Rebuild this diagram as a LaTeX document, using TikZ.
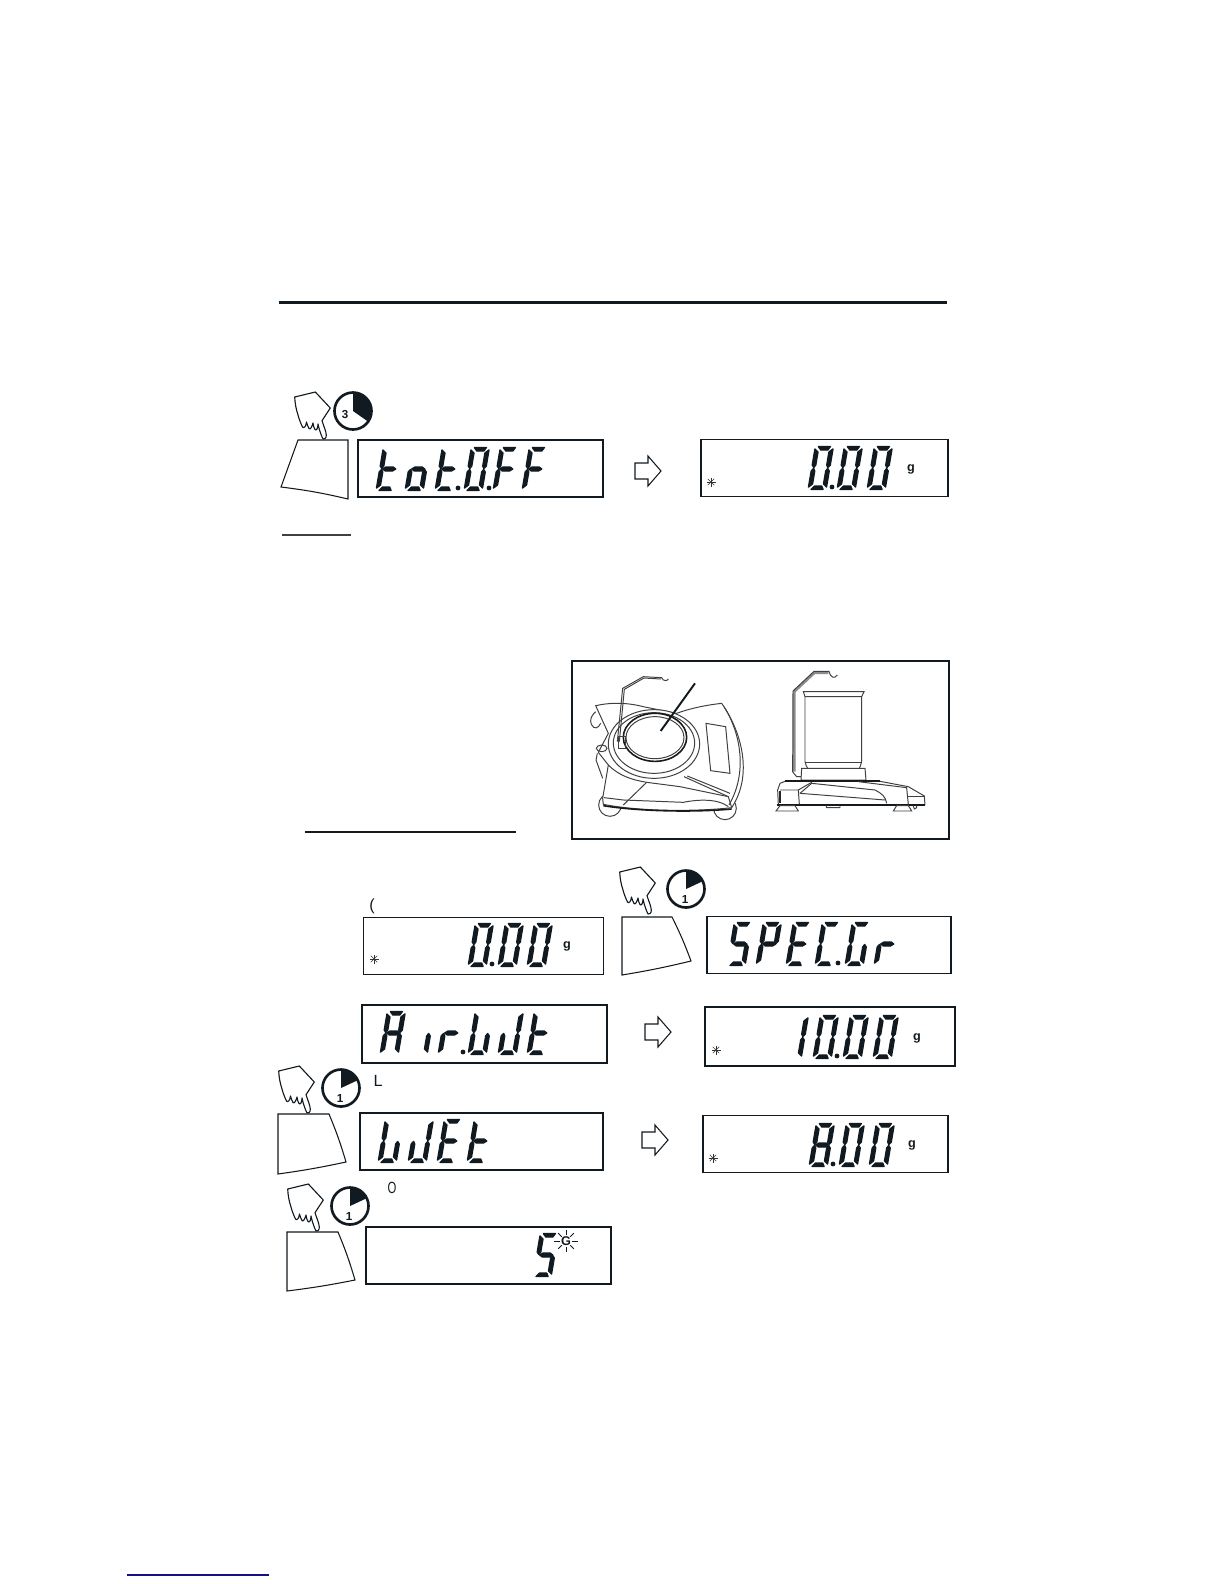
\documentclass[tikz,border=0pt]{standalone}
\usepackage{fontspec}
\setmainfont{Liberation Sans}
\usetikzlibrary{arrows.meta, positioning}
\definecolor{cInk}{HTML}{111A20}
\definecolor{cNavy}{HTML}{10108A}

% seven segment parts, origin on the baseline at the lower left
\newcommand{\sega}{(3,-43.5) -- (15,-43.5) -- (13,-40) -- (6,-40) -- cycle}
\newcommand{\segb}{(18,-41) -- (18,-25) -- (16,-22.5) -- (14.5,-25) -- (14.5,-38) -- cycle}
\newcommand{\segc}{(18,-19) -- (18,-3) -- (14.5,-6) -- (14.5,-19) -- (16,-21.5) -- cycle}
\newcommand{\segd}{(3,-0.5) -- (15,-0.5) -- (13,-4) -- (6,-4) -- cycle}
\newcommand{\sege}{(0,-19) -- (0,-3) -- (3.5,-6) -- (3.5,-19) -- (2,-21.5) -- cycle}
\newcommand{\segf}{(0,-41) -- (0,-25) -- (2,-22.5) -- (3.5,-25) -- (3.5,-38) -- cycle}
\newcommand{\segg}{(3,-22) -- (6,-24) -- (13,-24) -- (16,-22) -- (13,-20) -- (6,-20) -- cycle}
\newcommand{\lcdchar}[3]{%
  \begin{scope}[shift={(#1,#2)}, xslant=0.17]
    \edef\lcdlist{#3}
    \foreach \s in \lcdlist {\filldraw[lcdink] \csname seg\s\endcsname;}
  \end{scope}}
\def\lcdZ{a,b,c,d,e,f}
\def\lcdT{d,e,f,g}
\def\lcdO{c,d,e,g}
\def\lcdF{a,e,f,g}
\def\lcdS{a,f,g,c,d}
\def\lcdP{a,b,e,f,g}
\def\lcdE{a,d,e,f,g}
\def\lcdC{a,d,e,f}
\def\lcdG{a,c,d,e,f}
\def\lcdR{e,g}
\def\lcdA{a,b,c,e,f,g}
\def\lcdI{c}
\def\lcdU{c,d,e,f}
\def\lcdJ{b,c,d,e}
\def\lcdN{b,c}
\def\lcdH{a,b,c,d,e,f,g}

\begin{document}
\begin{tikzpicture}[
  x=0.01cm, y=-0.01cm,
  lcdink/.style={fill=cInk, draw=cInk, line width=0.4pt, line join=round},
  dispbox/.style={rectangle, draw=cInk, line width=0.4pt, minimum width=2.44cm,
                  minimum height=0.57cm, inner sep=0pt},
  rule/.style={line width=0.6pt, color=cInk},
  keybox/.style={line width=0.3pt, color=cInk, fill=white},
  blockarr/.style={line width=0.3pt, color=cInk, fill=white},
  balink/.style={line width=0.28pt, color=black!75},
  balthick/.style={line width=0.45pt, color=black!90},
  unit/.style={font=\fontsize{3.6}{4}\selectfont\bfseries, text=cInk, inner sep=0pt},
  clocknum/.style={font=\fontsize{3.3}{4}\selectfont\bfseries, text=cInk, inner sep=0pt},
  stray/.style={font=\fontsize{4.6}{5}\selectfont, text=cInk, inner sep=0pt},
  pics/handpic/.style={code={
    \draw[line width=0.32pt, color=cInk, fill=white, line join=round]
      (-29.3,-42) -- (-8.7,-47) -- (6.3,-31) -- (-2,-18.3) .. controls (0,-12) and (2,-8) .. (2.3,-4)
      .. controls (2.6,-1) and (0,1) .. (-1,0) .. controls (-3,-4) and (-5,-10) .. (-6,-15)
      .. controls (-6,-10) and (-8,-8) .. (-9,-9.5) .. controls (-10,-11) and (-11,-14) .. (-11,-16)
      .. controls (-12,-12) and (-14,-9) .. (-15,-10.5) .. controls (-16,-12) and (-17,-15) .. (-17.5,-17)
      .. controls (-18,-13) and (-20,-10) .. (-21.5,-12) .. controls (-23,-15) and (-25,-20) .. (-26,-24)
      .. controls (-28,-30) and (-29,-36) .. cycle;
  }},
  pics/clockpic/.style={code={
    \draw[line width=0.75pt, color=cInk, fill=white] (0,0) circle[radius=0.185cm];
    \fill[cInk] (0,0) -- (0,-19) arc[start angle=90, end angle=#1, radius=0.19cm] -- cycle;
  }},
  pics/starpic/.style={code={
    \foreach \a in {0,45,90,135}
      \draw[line width=0.13pt, color=black!80, rotate=\a] (-4.5,0) -- (4.5,0);
  }},
  pics/arrowpic/.style={code={
    \draw[blockarr] (0,0) -- (-13,15) -- (-13,8) -- (-26,8) -- (-26,-8) -- (-13,-8) -- (-13,-15) -- cycle;
  }},
]
\useasboundingbox (0,0) rectangle (1224,1584);

% ---- Rules ----
\draw[rule] (279,302.5) -- (947,302.5);
\draw[line width=0.3pt, color=black!75] (282,535) -- (351,535);
\draw[rule] (305,832) -- (516,832);
\draw[line width=0.45pt, color=cNavy] (127,1575) -- (269,1575);

% ---- Row 1 ----
\pic (hand1) at (324,439) {handpic};
\pic (clock1) at (353,411) {clockpic={-35}};
\node[clocknum] (num1) at (345,415) {3};
\draw[keybox] (298,440) -- (348,440) -- (348,499) to[bend right=3] (281,487) -- cycle;
\node[dispbox, minimum width=2.45cm] (dTot) at (480.5,468.5) {};
\foreach \x/\g in {376/\lcdT, 405/\lcdO, 435/\lcdT, 464/\lcdZ, 493/\lcdF, 522/\lcdF}
  \lcdchar{\x}{491}{\g};
\foreach \x in {458,489} \fill[cInk] (\x,488) circle[radius=0.024cm];
\pic (arrow1) at (661,471) {arrowpic};
\node[dispbox, minimum width=2.47cm] (dZero) at (824.5,468) {};
\pic (star1) at (711,482) {starpic};
\foreach \x/\g in {808/\lcdZ, 837/\lcdZ, 867/\lcdZ}
  \lcdchar{\x}{490}{\g};
\fill[cInk] (832,487) circle[radius=0.024cm];
\node[unit] (unit1) at (911,469) {g};

% ---- Balance box ----
\draw[line width=0.6pt, color=cInk] (572,661) rectangle (949,839);
\begin{scope}[shift={(580,665)}, scale=0.3333]
  % top view
  \draw[balink] (90,420) circle[radius=0.34cm];
  \draw[balink] (435,430) circle[radius=0.34cm];
  \draw[balink, fill=white] (47,122) .. controls (90,112) and (140,112) .. (190,125)
    -- (290,145) .. controls (330,130) and (380,120) .. (425,115)
    .. controls (485,200) and (520,330) .. (455,428)
    .. controls (350,440) and (180,440) .. (70,418)
    -- (68,400) -- (85,300) -- (55,262) -- (85,205) -- cycle;
  \draw[balink] (432,125) .. controls (480,200) and (505,320) .. (447,420);
  \draw[balink] (47,140) .. controls (35,150) and (28,165) .. (34,178) .. controls (42,195) and (55,190) .. (62,175);
  \draw[balink] (65,250) ellipse[x radius=0.16cm, y radius=0.10cm];
  \draw[balink] (52,265) -- (48,285) -- (68,340);
  \draw[balink, fill=white] (222,237) ellipse[x radius=1.37cm, y radius=1.03cm];
  \draw[balink] (222,234) ellipse[x radius=1.22cm, y radius=0.91cm];
  \draw[balthick] (225,217) ellipse[x radius=0.95cm, y radius=0.72cm];
  \draw[balink] (225,218) ellipse[x radius=0.87cm, y radius=0.63cm];
  \draw[balink] (378,175) -- (437,185) -- (450,325) -- (392,317) -- cycle;
  \draw[balink] (85,300) .. controls (120,335) and (160,345) .. (200,352);
  \draw[balink] (200,352) -- (130,420);
  \draw[balink] (72,398) -- (130,405) -- (310,412) .. controls (370,400) and (420,405) .. (445,425);
  \draw[balink] (200,352) -- (300,365) -- (445,395);
  \draw[balink] (312,335) -- (445,395) -- (455,428);
  \draw[balink] (322,333) -- (450,385);
  \draw[balthick] (70,422) .. controls (180,440) and (350,442) .. (455,432);
  \draw[balink] (115,215) -- (135,215) -- (135,250) -- (115,250) -- cycle;
  \draw[balink] (112,230) -- (128,70) -- (190,35) -- (245,38) .. controls (250,50) and (262,48) .. (265,42);
  \draw[balink] (118,230) -- (133,73) -- (192,39) -- (243,42);
  \draw[line width=0.55pt, color=cInk] (345,55) -- (242,198);
  \end{scope}
\begin{scope}[shift={(765,665)}, scale=0.3333]
  % side view
  \draw[balink] (120,95) -- (120,290) .. controls (122,300) and (125,305) .. (128,310);
  \draw[balink] (290,95) -- (290,290) .. controls (288,300) and (285,305) .. (283,310);
  \draw[balink] (120,292) -- (290,292);
  \draw[balink] (115,80) -- (297,80) -- (290,95) -- (120,95) -- cycle;
  \draw[balink] (110,310) -- (300,310) -- (303,345) -- (108,345) -- cycle;
  \draw[balthick] (60,348) -- (345,348);
  \draw[balink] (38,375) -- (45,355) -- (60,349);
  \draw[balink] (345,349) -- (430,365) -- (478,393) -- (480,420);
  \draw[balink] (38,375) -- (40,420);
  \draw[line width=0.7pt, color=cInk] (35,420) -- (480,420);
  \draw[balink] (45,375) -- (100,375) -- (140,352);
  \draw[balink] (100,375) -- (103,418);
  \draw[balink] (105,385) -- (140,355) -- (330,375) .. controls (350,385) and (362,395) .. (365,415);
  \draw[balink] (105,385) -- (360,405);
  \draw[balink] (280,350) -- (425,368) -- (430,418);
  \draw[balink] (430,395) -- (478,395);
  \draw[line width=0.6pt, color=black!85] (44,378) -- (44,415);
  \draw[balink] (33,438) -- (45,422) -- (90,422) -- (100,438) -- cycle;
  \draw[balink] (385,438) -- (395,422) -- (430,422) -- (440,438) -- cycle;
  \draw[balink] (183,422) -- (185,428) -- (225,428) -- (225,422);
  \draw[balink] (445,422) -- (448,432) -- (455,428) -- (455,422);
  \draw[line width=0.7pt, color=black!45] (88,320) -- (88,80) -- (148,24) -- (190,24);
  \draw[balink] (83,322) -- (84,78) -- (147,19) -- (192,19)
    .. controls (195,38) and (210,42) .. (217,30);
  \draw[balink] (84,322) -- (95,335) -- (108,335);
\end{scope}

% ---- Row 2 ----
\node[stray] (paren) at (372,906) {(};
\node[dispbox, minimum width=2.40cm] (dStart) at (483.5,946) {};
\pic (star2) at (374,959) {starpic};
\foreach \x/\g in {468/\lcdZ, 498/\lcdZ, 527/\lcdZ}
  \lcdchar{\x}{967}{\g};
\fill[cInk] (492,964) circle[radius=0.024cm];
\node[unit] (unit2) at (567,946) {g};
\pic (hand2) at (649,914) {handpic};
\pic (clock2) at (686,889) {clockpic={25}};
\node[clocknum] (num2) at (685,899) {1};
\draw[keybox] (622,917) -- (672,917) to[bend left=3] (691,961) to[bend left=2] (622,975) -- cycle;
\node[dispbox] (dSpec) at (829,945) {};
\foreach \x/\g in {727/\lcdS, 756/\lcdP, 786/\lcdE, 815/\lcdC, 845/\lcdG, 874/\lcdR}
  \lcdchar{\x}{966}{\g};
\fill[cInk] (838,963) circle[radius=0.024cm];

% ---- Row 3 ----
\node[dispbox, minimum width=2.45cm, minimum height=0.58cm] (dAir) at (484.5,1034) {};
\foreach \x/\g in {380/\lcdA, 409/\lcdI, 438/\lcdR, 468/\lcdU, 498/\lcdJ, 527/\lcdT}
  \lcdchar{\x}{1055}{\g};
\fill[cInk] (463,1052) circle[radius=0.024cm];
\pic (arrow2) at (671,1032) {arrowpic};
\node[dispbox, minimum width=2.50cm, minimum height=0.59cm] (dTen) at (830,1036.5) {};
\pic (star3) at (716,1050) {starpic};
\foreach \x/\g in {783/\lcdN, 813/\lcdZ, 843/\lcdZ, 873/\lcdZ}
  \lcdchar{\x}{1059}{\g};
\fill[cInk] (837,1056) circle[radius=0.024cm];
\node[unit] (unit3) at (917,1038) {g};

% ---- Row 4 ----
\pic (hand3) at (308,1113) {handpic};
\pic (clock3) at (341,1088) {clockpic={25}};
\node[clocknum] (num3) at (340,1098) {1};
\node[stray] (letterL) at (378,1081) {L};
\draw[keybox] (278,1114) -- (329,1114) to[bend left=3] (346,1162) to[bend left=2] (278,1174) -- cycle;
\node[dispbox, minimum width=2.43cm] (dWet) at (481.5,1141.5) {};
\foreach \x/\g in {378/\lcdU, 408/\lcdJ, 437/\lcdE, 467/\lcdT}
  \lcdchar{\x}{1163}{\g};
\pic (arrow3) at (668,1140) {arrowpic};
\node[dispbox, minimum width=2.45cm] (dEight) at (825.5,1144) {};
\pic (star4) at (713,1158) {starpic};
\foreach \x/\g in {809/\lcdH, 839/\lcdZ, 869/\lcdZ}
  \lcdchar{\x}{1167}{\g};
\fill[cInk] (833,1164) circle[radius=0.024cm];
\node[unit] (unit4) at (912,1145) {g};

% ---- Row 5 ----
\pic (hand4) at (317,1231) {handpic};
\pic (clock4) at (350,1206) {clockpic={25}};
\node[clocknum] (num4) at (349,1216) {1};
\node[stray, xscale=0.7, transform shape] (letterO) at (392,1188) {O};
\draw[keybox] (287,1232) -- (338,1232) to[bend left=3] (355,1280) to[bend left=2] (287,1291) -- cycle;
\node[dispbox, minimum width=2.45cm] (dFive) at (488.5,1255.5) {};
\lcdchar{533}{1277}{\lcdS};
\node[unit] (unitG) at (566,1241) {G};
\foreach \a/\r in {0/12, 45/11, 90/11, 135/11, 180/12, 225/11, 270/11, 315/11}
  \draw[line width=0.25pt, color=cInk] (566,1241) ++(\a:6) -- ++(\a:\r-6);

\end{tikzpicture}
\end{document}
